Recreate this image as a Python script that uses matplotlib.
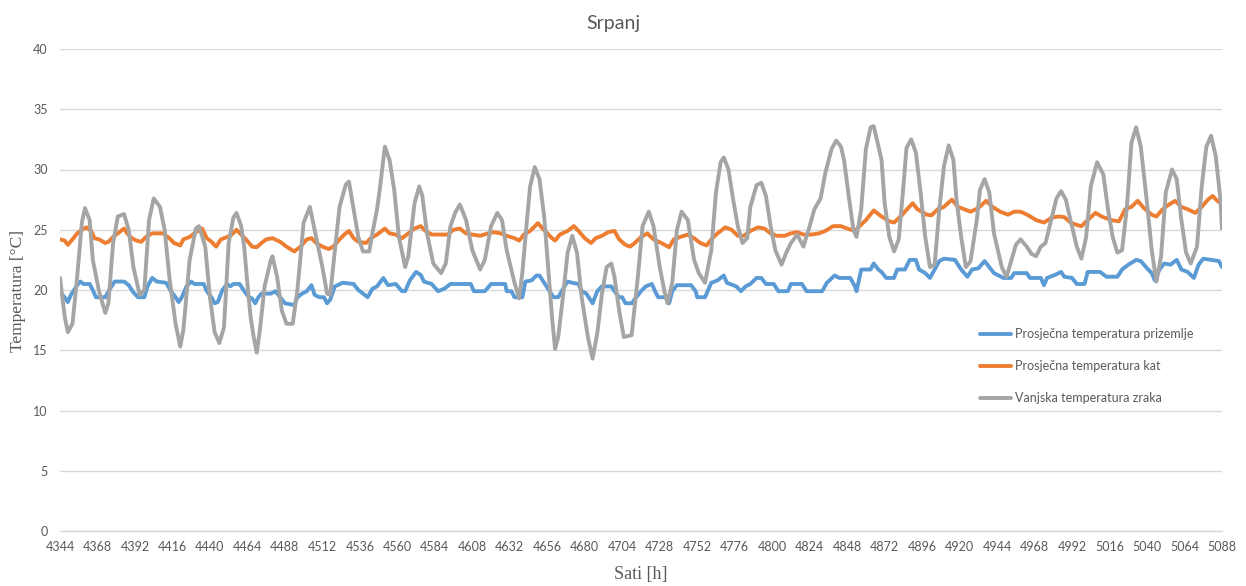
import matplotlib
matplotlib.use("Agg")
import matplotlib.pyplot as plt

title = "Srpanj"
x_label = "Sati [h]"
y_label = "Temperatura [°C]"
series_names = ["Prosječna temperatura prizemlje",
                "Prosječna temperatura kat",
                "Vanjska temperatura zraka"]
x_ticks = list(range(4344, 5089, 24))
y_ticks = [0, 5, 10, 15, 20, 25, 30, 35, 40]

# Ground-floor average temperature (hour, value)
ground_h = [4344, 4347, 4349, 4351, 4355, 4357, 4359, 4363, 4365, 4367, 4373, 4376, 4379, 4385, 4388, 4391,
            4394, 4398, 4400, 4403, 4406, 4412, 4415, 4418, 4420, 4422, 4425, 4428, 4430, 4436, 4438, 4441,
            4443, 4445, 4448, 4451, 4453, 4455, 4459, 4462, 4465, 4467, 4469, 4471, 4473, 4479, 4482, 4485,
            4488, 4494, 4496, 4499, 4502, 4505, 4507, 4510, 4513, 4515, 4517, 4520, 4525, 4532, 4535, 4541,
            4544, 4547, 4551, 4554, 4559, 4563, 4565, 4568, 4572, 4575, 4577, 4582, 4586, 4590, 4594, 4607,
            4609, 4616, 4620, 4629, 4630, 4633, 4635, 4640, 4642, 4646, 4649, 4651, 4654, 4657, 4660, 4663,
            4667, 4669, 4672, 4676, 4678, 4681, 4685, 4688, 4691, 4697, 4699, 4702, 4704, 4706, 4710, 4713,
            4716, 4719, 4723, 4725, 4727, 4732, 4734, 4736, 4739, 4748, 4751, 4752, 4757, 4761, 4765, 4769,
            4771, 4777, 4780, 4783, 4786, 4790, 4793, 4796, 4801, 4804, 4810, 4812, 4819, 4822, 4832, 4835,
            4840, 4843, 4850, 4853, 4854, 4857, 4863, 4865, 4868, 4870, 4873, 4878, 4880, 4885, 4888, 4892,
            4894, 4898, 4901, 4904, 4907, 4910, 4917, 4921, 4925, 4928, 4932, 4936, 4939, 4942, 4948, 4953,
            4955, 4963, 4965, 4972, 4974, 4976, 4981, 4985, 4987, 4992, 4995, 5000, 5002, 5010, 5014, 5021,
            5024, 5028, 5033, 5036, 5040, 5043, 5045, 5048, 5051, 5055, 5059, 5062, 5066, 5070, 5073, 5076,
            5081, 5086, 5088]
ground_t = [19.8, 19.4, 19.0, 19.6, 20.4, 20.7, 20.5, 20.5, 20.0, 19.4, 19.4, 20.1, 20.7, 20.7, 20.4, 19.8,
            19.4, 19.4, 20.3, 21.0, 20.7, 20.6, 19.9, 19.4, 19.0, 19.4, 20.3, 20.7, 20.5, 20.5, 19.9, 19.4,
            18.9, 19.0, 20.0, 20.5, 20.3, 20.5, 20.5, 19.9, 19.4, 19.3, 18.9, 19.4, 19.7, 19.7, 19.9, 19.4,
            18.9, 18.75, 19.4, 19.7, 19.9, 20.4, 19.6, 19.4, 19.4, 18.9, 19.2, 20.3, 20.6, 20.5, 20.0, 19.4,
            20.1, 20.3, 21.0, 20.4, 20.5, 19.9, 19.9, 20.8, 21.5, 21.25, 20.7, 20.5, 19.9, 20.1, 20.5, 20.5,
            19.9, 19.9, 20.5, 20.5, 19.9, 19.9, 19.4, 19.4, 20.7, 20.8, 21.2, 21.2, 20.6, 20.0, 19.4, 19.4,
            20.3, 20.7, 20.6, 20.5, 19.9, 19.7, 18.9, 19.9, 20.3, 20.3, 19.9, 19.4, 19.4, 18.9, 18.9, 19.4,
            19.9, 20.3, 20.5, 19.9, 19.4, 19.4, 18.9, 19.9, 20.4, 20.4, 19.9, 19.4, 19.4, 20.6, 20.8, 21.2,
            20.6, 20.3, 19.9, 20.3, 20.5, 21.0, 21.0, 20.5, 20.5, 19.9, 19.9, 20.5, 20.5, 19.9, 19.9, 20.6,
            21.2, 21.0, 21.0, 20.3, 19.9, 21.7, 21.7, 22.2, 21.7, 21.5, 21.0, 21.0, 21.7, 21.7, 22.5, 22.5,
            21.7, 21.4, 21.0, 21.7, 22.4, 22.6, 22.5, 21.7, 21.1, 21.7, 21.8, 22.4, 21.9, 21.4, 21.0, 21.0,
            21.4, 21.4, 21.0, 21.0, 20.4, 21.0, 21.25, 21.5, 21.1, 21.0, 20.5, 20.5, 21.5, 21.5, 21.1, 21.1,
            21.7, 22.1, 22.5, 22.4, 21.8, 21.4, 20.8, 21.7, 22.2, 22.1, 22.5, 21.7, 21.5, 21.0, 22.1, 22.6,
            22.5, 22.4, 21.9]

# First-floor average temperature (hour, value)
floor_h = [4344, 4347, 4349, 4352, 4355, 4358, 4361, 4364, 4366, 4369, 4373, 4375, 4378, 4381, 4385, 4387,
           4390, 4393, 4396, 4399, 4403, 4410, 4414, 4417, 4421, 4423, 4427, 4431, 4435, 4438, 4441, 4444,
           4447, 4451, 4454, 4457, 4460, 4463, 4467, 4470, 4473, 4476, 4480, 4485, 4489, 4494, 4498, 4502,
           4505, 4508, 4512, 4516, 4519, 4523, 4526, 4529, 4532, 4535, 4540, 4543, 4547, 4552, 4555, 4559,
           4563, 4567, 4571, 4575, 4578, 4582, 4588, 4592, 4596, 4600, 4604, 4608, 4613, 4618, 4622, 4626,
           4630, 4635, 4638, 4641, 4645, 4650, 4653, 4656, 4659, 4661, 4664, 4669, 4673, 4676, 4680, 4684,
           4687, 4691, 4695, 4699, 4702, 4706, 4709, 4712, 4716, 4720, 4724, 4729, 4734, 4737, 4741, 4746,
           4750, 4754, 4758, 4761, 4765, 4770, 4774, 4778, 4782, 4786, 4791, 4795, 4799, 4803, 4808, 4812,
           4816, 4820, 4825, 4830, 4834, 4839, 4844, 4848, 4853, 4856, 4860, 4865, 4870, 4875, 4878, 4883,
           4887, 4890, 4893, 4899, 4902, 4906, 4910, 4915, 4919, 4923, 4927, 4932, 4937, 4941, 4946, 4951,
           4955, 4959, 4964, 4969, 4974, 4979, 4983, 4987, 4991, 4995, 4998, 5002, 5007, 5011, 5017, 5022,
           5026, 5030, 5034, 5038, 5043, 5046, 5050, 5053, 5058, 5062, 5066, 5071, 5075, 5079, 5082, 5085,
           5088]
floor_t = [24.2, 24.1, 23.75, 24.2, 24.7, 25.0, 25.2, 24.9, 24.3, 24.2, 23.9, 24.0, 24.4, 24.7, 25.1, 24.7,
           24.3, 24.1, 24.0, 24.4, 24.7, 24.7, 24.3, 23.9, 23.7, 24.2, 24.4, 24.8, 25.1, 24.3, 24.0, 23.6,
           24.2, 24.4, 24.6, 25.0, 24.6, 24.2, 23.6, 23.55, 23.9, 24.2, 24.3, 24.0, 23.6, 23.2, 23.6, 24.2,
           24.3, 23.9, 23.6, 23.4, 23.6, 24.2, 24.6, 24.9, 24.3, 24.0, 23.9, 24.3, 24.6, 25.1, 24.7, 24.6,
           24.3, 24.7, 25.1, 25.3, 24.9, 24.6, 24.6, 24.6, 25.0, 25.1, 24.7, 24.6, 24.5, 24.7, 24.8, 24.7,
           24.5, 24.3, 24.1, 24.6, 24.9, 25.55, 25.1, 24.7, 24.3, 24.1, 24.6, 24.9, 25.3, 24.9, 24.3, 23.9,
           24.3, 24.5, 24.8, 24.9, 24.2, 23.75, 23.6, 23.9, 24.4, 24.7, 24.2, 23.9, 23.55, 24.2, 24.4, 24.6,
           24.3, 23.9, 23.7, 24.2, 24.7, 25.2, 25.0, 24.5, 24.5, 24.9, 25.2, 25.1, 24.7, 24.5, 24.5, 24.7,
           24.8, 24.6, 24.6, 24.7, 24.9, 25.3, 25.3, 25.1, 24.9, 25.3, 25.8, 26.6, 26.1, 25.7, 25.6, 26.2,
           26.8, 27.2, 26.7, 26.25, 26.2, 26.7, 26.9, 27.5, 26.9, 26.7, 26.5, 26.8, 27.4, 26.9, 26.5, 26.25,
           26.5, 26.5, 26.2, 25.8, 25.6, 26.0, 26.1, 26.05, 25.6, 25.4, 25.3, 25.8, 26.4, 26.1, 25.8, 25.7,
           26.7, 26.9, 27.4, 26.8, 26.25, 26.1, 26.7, 27.0, 27.4, 26.9, 26.7, 26.4, 26.9, 27.5, 27.8, 27.4,
           27.1]

# Outdoor air temperature (hour, value)
outdoor_h = [4344, 4347, 4349, 4352, 4355, 4358, 4360, 4363, 4365, 4369, 4373, 4375, 4378, 4381, 4385, 4388,
             4391, 4395, 4398, 4401, 4404, 4408, 4411, 4414, 4418, 4421, 4423, 4427, 4431, 4433, 4437, 4440,
             4443, 4446, 4449, 4452, 4455, 4457, 4460, 4462, 4464, 4466, 4468, 4470, 4472, 4475, 4479, 4480,
             4483, 4486, 4489, 4493, 4496, 4500, 4504, 4507, 4512, 4515, 4517, 4520, 4523, 4527, 4529, 4532,
             4535, 4538, 4542, 4544, 4547, 4549, 4551, 4552, 4555, 4558, 4561, 4565, 4567, 4571, 4574, 4576,
             4579, 4583, 4588, 4591, 4594, 4597, 4600, 4604, 4608, 4613, 4616, 4620, 4624, 4627, 4630, 4635,
             4638, 4640, 4643, 4645, 4648, 4651, 4654, 4657, 4659, 4661, 4663, 4666, 4669, 4672, 4675, 4678,
             4682, 4685, 4688, 4691, 4694, 4697, 4699, 4702, 4705, 4710, 4714, 4717, 4721, 4724, 4728, 4731,
             4733, 4736, 4739, 4742, 4746, 4750, 4753, 4757, 4761, 4764, 4767, 4769, 4772, 4775, 4778, 4781,
             4784, 4786, 4790, 4793, 4796, 4799, 4802, 4806, 4809, 4812, 4816, 4820, 4824, 4827, 4831, 4834,
             4838, 4841, 4844, 4846, 4849, 4852, 4854, 4857, 4860, 4863, 4865, 4867, 4870, 4872, 4875, 4878,
             4881, 4884, 4886, 4889, 4892, 4895, 4898, 4901, 4904, 4907, 4910, 4913, 4916, 4918, 4921, 4924,
             4927, 4931, 4933, 4936, 4939, 4942, 4947, 4950, 4953, 4956, 4959, 4963, 4966, 4969, 4972, 4975,
             4979, 4982, 4985, 4988, 4991, 4995, 4998, 5001, 5004, 5008, 5012, 5015, 5018, 5021, 5024, 5027,
             5030, 5033, 5036, 5040, 5043, 5046, 5049, 5052, 5056, 5059, 5062, 5065, 5068, 5072, 5075, 5078,
             5081, 5084, 5087, 5088]
outdoor_t = [21.0, 17.8, 16.5, 17.2, 21.1, 25.6, 26.8, 25.8, 22.5, 19.9, 18.1, 18.9, 23.9, 26.1, 26.3, 25.0,
             21.9, 19.6, 20.0, 25.8, 27.6, 26.9, 25.0, 21.1, 17.2, 15.3, 16.7, 22.5, 25.1, 25.3, 23.6, 19.4,
             16.5, 15.6, 16.9, 23.9, 26.0, 26.4, 25.3, 23.5, 20.5, 17.8, 16.1, 14.8, 16.7, 20.3, 22.5, 22.8,
             21.1, 18.3, 17.2, 17.2, 20.0, 25.6, 26.9, 25.0, 21.9, 19.7, 19.6, 23.3, 26.9, 28.75, 29.0, 26.7,
             24.4, 23.2, 23.2, 24.7, 26.7, 28.6, 30.8, 31.9, 30.8, 28.3, 24.4, 21.9, 22.8, 27.2, 28.6, 27.8,
             24.7, 22.2, 21.4, 22.2, 25.3, 26.4, 27.1, 25.8, 23.3, 21.7, 22.5, 25.3, 26.4, 25.8, 23.3, 20.6,
             19.3, 21.4, 25.8, 28.6, 30.2, 29.2, 26.1, 21.1, 17.8, 15.1, 16.1, 19.4, 23.1, 24.5, 23.1, 19.4,
             16.1, 14.3, 16.4, 19.7, 21.9, 22.2, 21.1, 18.3, 16.1, 16.25, 21.1, 25.3, 26.5, 25.3, 21.9, 19.9,
             18.9, 20.6, 25.0, 26.5, 25.8, 22.5, 21.4, 20.6, 23.3, 28.1, 30.6, 31.0, 30.0, 27.5, 25.3, 23.9,
             24.3, 26.9, 28.7, 28.9, 27.8, 25.3, 23.3, 22.1, 23.1, 23.9, 24.6, 23.6, 25.3, 26.7, 27.6, 29.7,
             31.7, 32.4, 31.9, 30.8, 27.8, 25.0, 24.4, 26.7, 31.7, 33.5, 33.6, 32.5, 30.8, 27.2, 24.4, 23.2,
             24.2, 28.6, 31.8, 32.5, 31.4, 28.1, 24.4, 21.9, 22.1, 26.7, 30.3, 32.0, 30.8, 27.5, 24.4, 21.9,
             22.4, 25.8, 28.3, 29.2, 28.1, 24.7, 21.9, 21.1, 22.4, 23.75, 24.2, 23.6, 23.0, 22.8, 23.6, 23.9,
             26.0, 27.6, 28.2, 27.5, 25.8, 23.6, 22.6, 24.4, 28.6, 30.6, 29.6, 26.7, 24.4, 23.1, 23.3, 26.7,
             32.2, 33.5, 31.9, 27.2, 23.3, 20.7, 22.8, 28.1, 30.0, 29.2, 25.8, 23.1, 22.2, 23.6, 28.6, 31.9,
             32.8, 31.1, 27.5, 25.1]

colors = ["#5B9BD5", "#ED7D31", "#A5A5A5"]
text_gray = "#595959"
grid_gray = "#D9D9D9"

fig = plt.figure(figsize=(12.46, 5.86), dpi=100)
ax = fig.add_axes([60 / 1246, 1 - 531 / 586, (1222 - 60) / 1246, (531 - 49) / 586])

ax.plot(ground_h, ground_t, color=colors[0], lw=2.8, label=series_names[0],
        solid_joinstyle="round", solid_capstyle="round")
ax.plot(floor_h, floor_t, color=colors[1], lw=2.8, label=series_names[1],
        solid_joinstyle="round", solid_capstyle="round")
ax.plot(outdoor_h, outdoor_t, color=colors[2], lw=2.8, label=series_names[2],
        solid_joinstyle="round", solid_capstyle="round")

ax.set_xlim(4344, 5088)
ax.set_ylim(0, 40)
ax.set_xticks(x_ticks)
ax.set_xticklabels([str(t) for t in x_ticks], fontfamily="Lato", fontsize=9, color=text_gray)
ax.set_yticks(y_ticks)
ax.set_yticklabels([str(t) for t in y_ticks], fontfamily="Lato", fontsize=9, color=text_gray)
ax.tick_params(axis="both", length=0)
ax.tick_params(axis="x", pad=7)
ax.tick_params(axis="y", pad=9)
ax.grid(axis="y", color=grid_gray, lw=1)
ax.set_axisbelow(True)
for s in ["top", "right", "left"]:
    ax.spines[s].set_visible(False)
ax.spines["bottom"].set_color(grid_gray)
ax.spines["bottom"].set_linewidth(1)

fig.text(613 / 1246, 1 - 24 / 586, title, ha="center", va="center",
         fontfamily="Lato", fontsize=14, color=text_gray)
fig.text(641 / 1246, 1 - 575 / 586, x_label, ha="center", va="center",
         fontfamily="Liberation Serif", fontsize=13, color=text_gray)
fig.text(18 / 1246, 1 - 291 / 586, y_label, ha="center", va="center", rotation=90,
         fontfamily="Liberation Serif", fontsize=12.5, color=text_gray)

leg = ax.legend(loc="upper left", bbox_to_anchor=(975 / 1246, 1 - 323 / 586),
                bbox_transform=fig.transFigure, frameon=False, borderaxespad=0,
                handlelength=2.5, handletextpad=0.3, labelspacing=1.6,
                prop={"family": "Lato", "size": 9})
for t in leg.get_texts():
    t.set_color(text_gray)

fig.savefig("out.png", dpi=100)
